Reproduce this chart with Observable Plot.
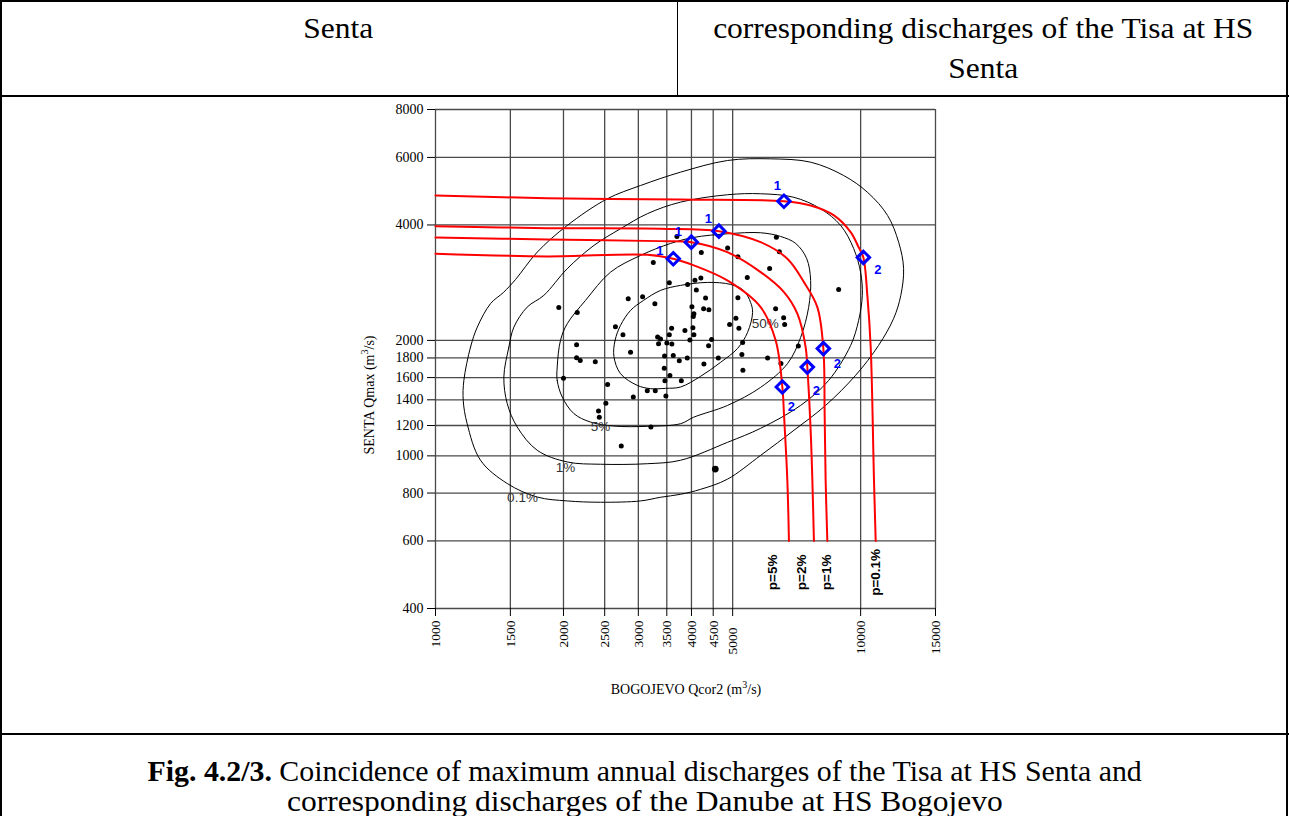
<!DOCTYPE html>
<html><head><meta charset="utf-8">
<script src="https://cdn.jsdelivr.net/npm/d3@7"></script>
<script src="https://cdn.jsdelivr.net/npm/@observablehq/plot@0.6"></script>
<style>
html,body{margin:0;padding:0;background:#fff;}
#page{position:relative;width:1289px;height:816px;overflow:hidden;background:#fff;font-family:"Liberation Serif","Times New Roman",serif;color:#000;}
.ln{position:absolute;background:#000;}
.cell{position:absolute;text-align:center;font-size:30px;line-height:40px;}
.cell span,.cap span{display:inline-block;transform:scaleX(1.05);transform-origin:center;white-space:nowrap;}
.cap span.l1{transform:scaleX(0.995);}
.cap{position:absolute;left:0;width:1289px;text-align:center;font-size:30px;line-height:30px;}
#chart{position:absolute;left:340px;top:100px;}
#ytitle{position:absolute;left:370px;top:395px;transform:translate(-50%,-50%) rotate(-90deg);white-space:nowrap;font-size:14px;}
#xtitle{position:absolute;left:686px;top:690px;transform:translate(-50%,-50%);white-space:nowrap;font-size:14px;}
sup{font-size:72%;vertical-align:top;position:relative;top:-3px;}
</style></head><body>
<div id="page">
  <div class="ln" style="left:0;top:0;width:1289px;height:2px"></div>
  <div class="ln" style="left:0;top:0;width:2px;height:816px"></div>
  <div class="ln" style="left:1286px;top:0;width:2px;height:816px"></div>
  <div class="ln" style="left:0;top:95px;width:1289px;height:2px"></div>
  <div class="ln" style="left:677px;top:0;width:1px;height:96px"></div>
  <div class="ln" style="left:0;top:733px;width:1289px;height:2px"></div>
  <div class="cell" style="left:0;width:677px;top:8px;"><span>Senta</span></div>
  <div class="cell" style="left:678px;width:610px;top:8px;"><span>corresponding discharges of the Tisa at HS</span><br><span>Senta</span></div>
  <div id="chart"></div>
  <div id="ytitle">SENTA Qmax (m<sup>3</sup>/s)</div>
  <div id="xtitle">BOGOJEVO Qcor2 (m<sup>3</sup>/s)</div>
  <div class="cap" style="top:756px;"><span class="l1"><b>Fig. 4.2/3.</b> Coincidence of maximum annual discharges of the Tisa at HS Senta and</span><br><span>corresponding discharges of the Danube at HS Bogojevo</span></div>
</div>
<script>
// ---- axis ticks ----
const xTicks = [1000, 1500, 2000, 2500, 3000, 3500, 4000, 4500, 5000, 10000, 15000];
const yTicks = [400, 600, 800, 1000, 1200, 1400, 1600, 1800, 2000, 4000, 6000, 8000];

// ---- observed annual maxima: [Bogojevo Qcor2, Senta Qmax] ----
const observed = [
 [1950,2438],[2155,2366],[2840,2570],[3070,2601],[2650,2172],[2760,2070],[2147,1950],[2147,1803],[2190,1774],[2376,1760],
 [2876,1862],[2000,1593],[2540,1534],[2919,1423],[3149,1479],[2516,1371],[2418,1309],[2428,1261],[2735,1061],[3697,3733],
 [3253,3194],[4219,3392],[3548,2828],[3917,2799],[4076,2872],[4209,2907],[4107,2706],[3281,2494],[4318,2580],[4010,2449],
 [4272,2420],[4396,2405],[4053,2348],[4040,2310],[3592,2150],[3861,2124],[4031,2159],[3548,2070],[4053,2070],[3330,2040],
 [3383,2016],[3966,2004],[4461,2012],[3347,1961],[3501,1968],[3597,1956],[4389,1938],[3458,1820],[3625,1828],[3745,1771],
 [3910,1799],[4626,1799],[4279,1735],[3452,1691],[3559,1619],[3464,1571],[3786,1571],[3288,1479],[3483,1432],[3211,1189],
 [6335,3718],[4865,3481],[6439,3406],[5144,3305],[6108,3082],[5412,2919],[8877,2717],[5144,2585],[6310,2420],
 [5089,2283],[6590,2292],[4918,2202],[5172,2150],[6626,2202],[5277,1976],[7136,1933],[5256,1839],[6042,1799],[6494,1742],
 [5285,1671]
];
const observedLarge = [[4551,924]];

// ---- joint probability contours ----
const contour50 = [[2628,1817],[2645,2001],[2724,2189],[2876,2395],[3087,2544],[3383,2700],[3771,2783],[4365,2833],[4945,2799],[5305,2700],[5510,2513],[5570,2366],[5421,2099],[5136,1907],[4683,1753],[4202,1612],[3771,1512],[3477,1500],[3205,1497],[2983,1527],[2724,1638]];
const contour5 = [[1933,1704],[1933,1573],[1987,1423],[2116,1289],[2316,1225],[2628,1196],[3149,1194],[3771,1213],[4047,1261],[4865,1354],[5818,1509],[6734,1742],[7226,2036],[7545,2438],[7628,2867],[7464,3272],[7034,3580],[6483,3733],[5818,3817],[4865,3794],[4047,3711],[3572,3580],[3037,3332],[2581,3014],[2254,2544],[2041,2211],[1968,2001]];
const contour1 = [[1448,1605],[1488,1922],[1529,2166],[1643,2443],[1798,2621],[2041,3076],[2358,3537],[2724,3910],[3149,4279],[3771,4588],[4865,4796],[5818,4824],[6957,4724],[8052,4408],[8975,3988],[9627,3474],[10000,3008],[10090,2621],[9892,2255],[9473,1941],[8409,1573],[7226,1354],[5818,1180],[4865,1085],[3771,974],[3149,954],[2445,951],[2041,964],[1735,1034],[1557,1189],[1475,1368]];
const contour01 = [[1166,1573],[1209,1922],[1254,2166],[1347,2494],[1445,2668],[1543,2884],[1735,3398],[2041,3988],[2535,4680],[3037,5069],[3771,5492],[4865,5891],[6141,5949],[7628,5831],[9120,5383],[10390,4861],[11570,4236],[12290,3602],[12620,3082],[12430,2621],[11960,2283],[11020,1941],[9732,1622],[8273,1354],[6968,1166],[5818,1003],[4857,869],[4202,818],[3771,794],[3383,780],[3037,763],[2445,757],[2041,763],[1735,781],[1475,847],[1276,974],[1187,1213],[1162,1396]];
const contourLabels = [
 {x:5962, y:2215, t:"50%"}, {x:2445, y:1194, t:"5%"}, {x:2022, y:934, t:"1%"}, {x:1602, y:780, t:"0.1%"}
];

// ---- equal-probability curves (red) ----
const curveP01 = [[1000,4776],[1831,4696],[3771,4661],[6601,4612],[7628,4495],[8654,4236],[9473,3831],[9892,3500],[10150,3292],[10370,2621],[10560,1922],[10750,864],[10850,600]];
const curveP1  = [[1000,3971],[1831,3924],[3383,3910],[4641,3854],[5818,3608],[6723,3266],[7356,2838],[7909,2443],[8171,1904],[8229,1289],[8273,864],[8350,600]];
const curveP2  = [[1000,3711],[1831,3667],[3383,3630],[3997,3608],[4857,3398],[5818,3014],[6601,2673],[7098,2348],[7424,1922],[7492,1704],[7628,1166],[7699,864],[7765,600]];
const curveP5  = [[1000,3366],[1831,3312],[3149,3345],[3625,3266],[4053,3138],[4857,2867],[5818,2443],[6310,2001],[6544,1512],[6601,1289],[6723,864],[6782,600]];
const pLabels = [
 {x:6198, y:497, t:"p=5%"}, {x:7276, y:497, t:"p=2%"}, {x:8305, y:497, t:"p=1%"}, {x:10850, y:497, t:"p=0.1%"}
];

// ---- design points (blue diamonds) ----
const points1 = [[3625,3266],[3997,3608],[4641,3854],[6601,4612]];
const points2 = [[6544,1512],[7492,1704],[8171,1904],[10150,3292]];
const labels1 = [[3370,3434],[3725,3831],[4381,4150],[6368,5069]];
const labels2 = [[6870,1346],[7867,1474],[8814,1739],[10980,3063]];

const X = d => d[0], Y = d => d[1];
const fmt = d => String(d);
const gridStyle = {stroke:"#4a4a4a", strokeOpacity:1, strokeWidth:1.3};
const redStyle = {x:X, y:Y, curve:"catmull-rom", stroke:"#ff0000", strokeWidth:2};
const contStyle = {x:X, y:Y, curve:"catmull-rom-closed", stroke:"#000", strokeWidth:1};

const chart = Plot.plot({
  width: 640, height: 620,
  marginLeft: 95, marginRight: 45, marginTop: 9, marginBottom: 112,
  x: {type:"log", domain:[1000, 15000]},
  y: {type:"log", domain:[400, 8000]},
  style: {fontFamily:"'Liberation Serif', 'Times New Roman', serif", fontSize:"13.5px", background:"transparent", color:"#000"},
  marks: [
    Plot.gridX(xTicks, gridStyle),
    Plot.gridY(yTicks, gridStyle),
    Plot.axisY(yTicks, {tickFormat:fmt, tickSize:8, tickPadding:4, label:null, fontSize:14}),
    Plot.axisX(xTicks.filter(d => d !== 5000), {tickFormat:fmt, tickRotate:-90, tickSize:8, tickPadding:4, label:null, fontSize:13.5}),
    Plot.axisX([5000], {tickFormat:fmt, tickRotate:-90, tickSize:8, tickPadding:11, label:null, fontSize:13.5}),
    Plot.line(contour50, contStyle),
    Plot.line(contour5, contStyle),
    Plot.line(contour1, contStyle),
    Plot.line(contour01, contStyle),
    Plot.text(contourLabels, {x:"x", y:"y", text:"t", fill:"#333", fontFamily:"'Liberation Sans', Arial, sans-serif", fontSize:13.5}),
    Plot.dot(observed, {x:X, y:Y, r:2.5, fill:"#000"}),
    Plot.dot(observedLarge, {x:X, y:Y, r:3.4, fill:"#000"}),
    Plot.line(curveP01, redStyle),
    Plot.line(curveP1, redStyle),
    Plot.line(curveP2, redStyle),
    Plot.line(curveP5, redStyle),
    Plot.dot(points1, {x:X, y:Y, symbol:"diamond2", r:5.6, stroke:"#0000ff", strokeWidth:3, fill:"none"}),
    Plot.dot(points2, {x:X, y:Y, symbol:"diamond2", r:5.6, stroke:"#0000ff", strokeWidth:3, fill:"none"}),
    Plot.text(labels1, {x:X, y:Y, text:() => "1", fill:"#0000ff", fontWeight:"bold", fontFamily:"'Liberation Sans', Arial, sans-serif", fontSize:13}),
    Plot.text(labels2, {x:X, y:Y, text:() => "2", fill:"#0000ff", fontWeight:"bold", fontFamily:"'Liberation Sans', Arial, sans-serif", fontSize:13}),
    Plot.text(pLabels, {x:"x", y:"y", text:"t", rotate:-90, fill:"#000", fontWeight:"bold", fontFamily:"'Liberation Sans', Arial, sans-serif", fontSize:13.5})
  ]
});
document.getElementById("chart").appendChild(chart);
</script>
</body></html>
